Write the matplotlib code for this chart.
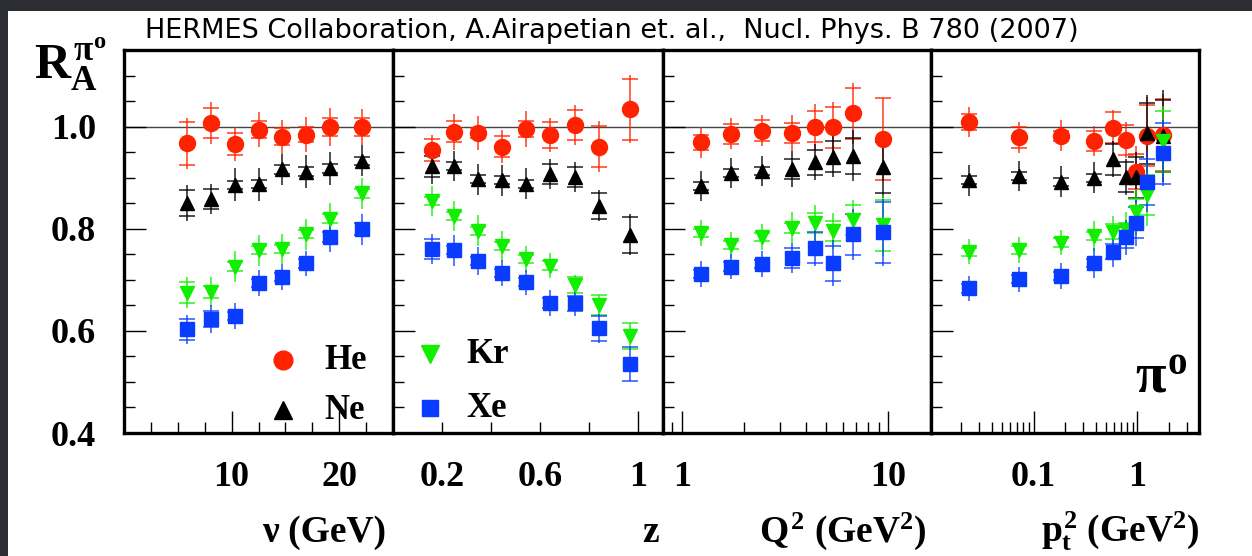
import matplotlib
matplotlib.use("Agg")
import matplotlib.pyplot as plt
import numpy as np
from matplotlib.patches import Rectangle
from matplotlib.ticker import FixedLocator, MultipleLocator, NullFormatter

# ---- data ----
nu = [5.9, 8.1, 10.3, 12.5, 14.7, 16.9, 19.1, 22.1]
nu_he = [0.967, 1.007, 0.966, 0.994, 0.980, 0.984, 0.999, 0.999]
nu_he_err = [0.050, 0.041, 0.034, 0.034, 0.033, 0.034, 0.037, 0.036]
nu_he_sys = [0.042, 0.030, 0.022, 0.016, 0.017, 0.015, 0.017, 0.018]
nu_ne = [0.850, 0.858, 0.886, 0.887, 0.916, 0.912, 0.918, 0.933]
nu_ne_err = [0.035, 0.030, 0.032, 0.032, 0.030, 0.032, 0.032, 0.030]
nu_ne_sys = [0.025, 0.020, 0.008, 0.008, 0.008, 0.008, 0.008, 0.008]
nu_kr = [0.675, 0.676, 0.726, 0.758, 0.760, 0.789, 0.820, 0.869]
nu_kr_err = [0.030, 0.030, 0.030, 0.030, 0.030, 0.030, 0.030, 0.030]
nu_kr_sys = [0.020, 0.012, 0.008, 0.008, 0.008, 0.008, 0.008, 0.008]
nu_xe = [0.603, 0.623, 0.629, 0.694, 0.706, 0.732, 0.784, 0.799]
nu_xe_err = [0.028, 0.027, 0.025, 0.025, 0.025, 0.025, 0.030, 0.030]
nu_xe_sys = [0.020, 0.015, 0.008, 0.008, 0.008, 0.008, 0.010, 0.012]

z = [0.16, 0.25, 0.345, 0.444, 0.543, 0.641, 0.742, 0.838, 0.964]
z_he = [0.954, 0.990, 0.988, 0.961, 0.995, 0.984, 1.003, 0.961, 1.034]
z_he_err = [0.030, 0.035, 0.033, 0.033, 0.035, 0.033, 0.040, 0.050, 0.067]
z_he_sys = [0.022, 0.020, 0.010, 0.020, 0.015, 0.025, 0.030, 0.040, 0.060]
z_ne = [0.922, 0.923, 0.897, 0.895, 0.888, 0.907, 0.901, 0.845, 0.788]
z_ne_err = [0.035, 0.030, 0.030, 0.030, 0.030, 0.030, 0.030, 0.030, 0.040]
z_ne_sys = [0.020, 0.008, 0.008, 0.008, 0.008, 0.020, 0.020, 0.025, 0.035]
z_kr = [0.854, 0.825, 0.796, 0.766, 0.741, 0.728, 0.690, 0.651, 0.590]
z_kr_err = [0.030, 0.030, 0.030, 0.030, 0.025, 0.025, 0.020, 0.020, 0.025]
z_kr_sys = [0.008, 0.008, 0.008, 0.008, 0.008, 0.008, 0.015, 0.020, 0.025]
z_xe = [0.760, 0.758, 0.737, 0.713, 0.695, 0.655, 0.654, 0.605, 0.535]
z_xe_err = [0.030, 0.030, 0.027, 0.025, 0.025, 0.025, 0.025, 0.028, 0.033]
z_xe_sys = [0.020, 0.008, 0.008, 0.008, 0.008, 0.010, 0.015, 0.025, 0.033]

q2 = [1.24, 1.73, 2.44, 3.43, 4.39, 5.40, 6.73, 9.39]
q2_he = [0.969, 0.986, 0.992, 0.987, 1.000, 0.999, 1.026, 0.976]
q2_he_err = [0.030, 0.030, 0.030, 0.035, 0.045, 0.050, 0.060, 0.080]
q2_he_sys = [0.015, 0.020, 0.020, 0.020, 0.030, 0.040, 0.050, 0.080]
q2_ne = [0.884, 0.909, 0.913, 0.917, 0.930, 0.941, 0.943, 0.920]
q2_ne_err = [0.030, 0.030, 0.030, 0.035, 0.035, 0.040, 0.050, 0.060]
q2_ne_sys = [0.008, 0.008, 0.008, 0.020, 0.025, 0.030, 0.035, 0.050]
q2_kr = [0.792, 0.768, 0.784, 0.802, 0.811, 0.796, 0.817, 0.807]
q2_kr_err = [0.025, 0.025, 0.025, 0.030, 0.035, 0.035, 0.040, 0.060]
q2_kr_sys = [0.008, 0.008, 0.008, 0.010, 0.020, 0.020, 0.030, 0.050]
q2_xe = [0.711, 0.726, 0.731, 0.743, 0.763, 0.732, 0.789, 0.793]
q2_xe_err = [0.025, 0.025, 0.025, 0.030, 0.035, 0.045, 0.050, 0.065]
q2_xe_sys = [0.008, 0.008, 0.008, 0.020, 0.030, 0.035, 0.040, 0.060]

pt2 = [0.024, 0.073, 0.185, 0.38, 0.58, 0.78, 0.98, 1.23, 1.77]
pt2_he = [1.009, 0.979, 0.982, 0.972, 0.998, 0.974, 0.912, 0.982, 0.984]
pt2_he_err = [0.030, 0.030, 0.030, 0.030, 0.035, 0.035, 0.050, 0.075, 0.080]
pt2_he_sys = [0.015, 0.020, 0.010, 0.020, 0.030, 0.030, 0.035, 0.060, 0.070]
pt2_ne = [0.895, 0.903, 0.892, 0.900, 0.936, 0.901, 0.901, 0.987, 0.982]
pt2_ne_err = [0.030, 0.030, 0.030, 0.030, 0.035, 0.035, 0.050, 0.075, 0.090]
pt2_ne_sys = [0.008, 0.008, 0.008, 0.008, 0.030, 0.030, 0.040, 0.060, 0.070]
pt2_kr = [0.755, 0.758, 0.773, 0.786, 0.794, 0.797, 0.833, 0.866, 0.971]
pt2_kr_err = [0.025, 0.025, 0.025, 0.030, 0.030, 0.035, 0.045, 0.060, 0.070]
pt2_kr_sys = [0.008, 0.008, 0.008, 0.008, 0.015, 0.015, 0.025, 0.040, 0.060]
pt2_xe = [0.683, 0.701, 0.707, 0.733, 0.755, 0.783, 0.812, 0.892, 0.948]
pt2_xe_err = [0.025, 0.025, 0.025, 0.030, 0.030, 0.035, 0.045, 0.060, 0.065]
pt2_xe_sys = [0.008, 0.008, 0.008, 0.008, 0.015, 0.020, 0.030, 0.045, 0.060]

RED, BLACK, GREEN, BLUE = "#ff2200", "#000000", "#11ee00", "#0a3cff"
STYLE = {"He": (RED, "o", 11.5), "Ne": (BLACK, "^", 10.5),
         "Kr": (GREEN, "v", 10.5), "Xe": (BLUE, "s", 9.5)}

plt.rcParams["font.family"] = ["Liberation Serif", "DejaVu Serif"]
plt.rcParams["font.weight"] = "bold"
plt.rcParams["mathtext.fontset"] = "custom"
plt.rcParams["mathtext.rm"] = "Liberation Serif:bold"
plt.rcParams["mathtext.it"] = "Liberation Serif:bold"
plt.rcParams["mathtext.bf"] = "Liberation Serif:bold"

W, H = 1252, 556
fig = plt.figure(figsize=(W / 100, H / 100), dpi=100, facecolor="white")
# dark slide border on the top and left
for rect in [(0, 1 - 11 / H, 1, 11 / H), (0, 0, 8 / W, 1)]:
    fig.patches.append(Rectangle(rect[:2], rect[2], rect[3], transform=fig.transFigure,
                                 facecolor="#2b2d32", edgecolor="none", zorder=-5))


def series(ax, x, y, err, sys, name):
    color, marker, ms = STYLE[name]
    x, y, sys = np.asarray(x), np.asarray(y), np.asarray(sys)
    ax.errorbar(x, y, yerr=err, fmt="none", ecolor=color, elinewidth=1.3, alpha=0.75, zorder=2)
    for s in (1, -1):
        ax.plot(x, y + s * sys, ls="none", marker="_", ms=11, mew=1.3, color=color, alpha=0.75, zorder=2)
    ax.plot(x, y, ls="none", marker=marker, ms=ms, color=color, mec=color, zorder=3)


panels = [
    (nu, [(nu_he, nu_he_err, nu_he_sys), (nu_ne, nu_ne_err, nu_ne_sys),
          (nu_kr, nu_kr_err, nu_kr_sys), (nu_xe, nu_xe_err, nu_xe_sys)]),
    (z, [(z_he, z_he_err, z_he_sys), (z_ne, z_ne_err, z_ne_sys),
         (z_kr, z_kr_err, z_kr_sys), (z_xe, z_xe_err, z_xe_sys)]),
    (q2, [(q2_he, q2_he_err, q2_he_sys), (q2_ne, q2_ne_err, q2_ne_sys),
          (q2_kr, q2_kr_err, q2_kr_sys), (q2_xe, q2_xe_err, q2_xe_sys)]),
    (pt2, [(pt2_he, pt2_he_err, pt2_he_sys), (pt2_ne, pt2_ne_err, pt2_ne_sys),
           (pt2_kr, pt2_kr_err, pt2_kr_sys), (pt2_xe, pt2_xe_err, pt2_xe_sys)]),
]

edges = [124, 393, 663, 931, 1199]
top, bot = 50, 433
axes = []
for i, (xv, sets) in enumerate(panels):
    ax = fig.add_axes([edges[i] / W, 1 - bot / H, (edges[i + 1] - edges[i]) / W, (bot - top) / H])
    ax.set_ylim(0.4, 1.15)
    ax.axhline(1.0, color="#444444", lw=1.0, zorder=1)
    for (y, e, s), name in zip(sets, ["He", "Ne", "Kr", "Xe"]):
        series(ax, xv, y, e, s, name)
    for sp in ax.spines.values():
        sp.set_linewidth(2.4)
    ax.yaxis.set_major_locator(MultipleLocator(0.2))
    ax.yaxis.set_minor_locator(MultipleLocator(0.05))
    ax.tick_params(which="both", direction="in", top=False, right=False, width=1.0,
                   labelsize=26, pad=20)
    ax.tick_params(which="major", length=16)
    ax.tick_params(which="minor", length=8)
    if i > 0:
        ax.tick_params(axis="y", labelleft=False)
    else:
        ax.set_yticks([0.4, 0.6, 0.8, 1.0], labels=["0.4", "0.6", "0.8", "1.0"])
    axes.append(ax)

a1, a2, a3, a4 = axes
a1.set_xlim(0, 25)
a1.set_xticks([10, 20], labels=["10", "20"])
a1.xaxis.set_minor_locator(MultipleLocator(2.5))

a2.set_xlim(0, 1.1)
a2.set_xticks([1.0], labels=["1"])
a2.set_xticks([0.2, 0.4, 0.6, 0.8], labels=["0.2", "", "0.6", ""], minor=True)
a2.tick_params(axis="x", which="minor", labelsize=26, pad=20)

a3.set_xscale("log")
a3.set_xlim(0.81, 16.1)
a3.set_xticks([1, 10], labels=["1", "10"])
a3.xaxis.set_minor_locator(FixedLocator([0.9, 2, 3, 4, 5, 6, 7, 8, 9]))
a3.xaxis.set_minor_formatter(NullFormatter())

a4.set_xscale("log")
a4.set_xlim(0.0103, 3.92)
a4.set_xticks([0.1, 1], labels=["0.1", "1"])
a4.xaxis.set_minor_locator(FixedLocator([0.02, 0.03, 0.04, 0.05, 0.06, 0.07, 0.08, 0.09,
                                         0.2, 0.3, 0.4, 0.5, 0.6, 0.7, 0.8, 0.9, 2, 3]))
a4.xaxis.set_minor_formatter(NullFormatter())

# legend entries drawn by hand, as in the original
for ax, names, xm, xt, ys in [(a1, ["He", "Ne"], 0.591, 0.745, [0.19, 0.06]),
                              (a2, ["Kr", "Xe"], 0.137, 0.272, [0.205, 0.065])]:
    for name, yf in zip(names, ys):
        color, marker, ms = STYLE[name]
        ax.plot([xm], [yf], transform=ax.transAxes, ls="none", marker=marker,
                ms=ms + 2, color=color, clip_on=False)
        ax.text(xt, yf, name, transform=ax.transAxes, fontsize=25, va="center", ha="left")

a4.text(0.86, 0.14, r"$\pi^o$", transform=a4.transAxes, fontsize=40, ha="center", va="center")

fig.text(34 / W, 1 - 36 / H, r"$R_A^{\pi^o}$", fontsize=36, ha="left", va="top")
fig.text(612 / W, 1 - 31 / H, "HERMES Collaboration, A.Airapetian et. al.,  Nucl. Phys. B 780 (2007)",
         family="DejaVu Sans", weight="normal", fontsize=19.5, ha="center", va="center")

base = 1 - 542 / H
fig.text(324 / W, base, "ν (GeV)", fontsize=27, ha="center", va="baseline")
fig.text(651 / W, base, "z", fontsize=27, ha="center", va="baseline")
fig.text(843 / W, base, r"$Q^2$ (GeV$^2$)", fontsize=27, ha="center", va="baseline")
fig.text(1120 / W, base, r"$p_t^2$ (GeV$^2$)", fontsize=27, ha="center", va="baseline")

fig.savefig("out.png", dpi=100)
